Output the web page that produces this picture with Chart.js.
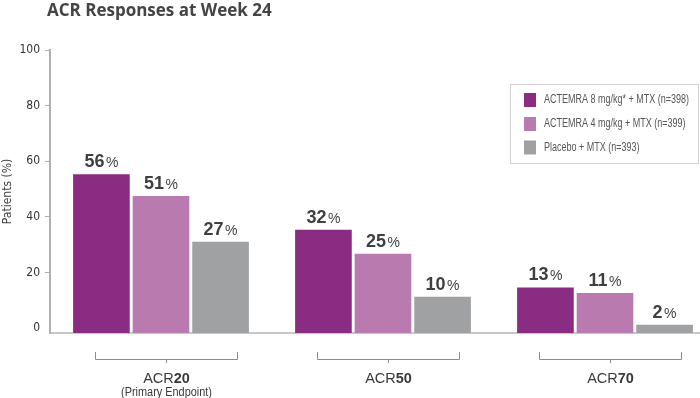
<!DOCTYPE html>
<html>
<head>
<meta charset="utf-8">
<script src="https://cdn.jsdelivr.net/npm/chart.js@4.4.1/dist/chart.umd.min.js"></script>
<style>
	html, body { margin: 0; padding: 0; background: #fff; overflow: hidden; }
	#clip { width: 700px; height: 398px; overflow: hidden; }
	#wrap { width: 716px; height: 398px; position: relative; }
</style>
</head>
<body>
<div id="clip"><div id="wrap"><canvas id="acr-chart"></canvas></div></div>
<script>
// categories (ACR + bold number) and the note under the first one
const categories = ["20", "50", "70"];
const categoryNotes = ["(Primary Endpoint)", "", ""];

const seriesNames = [
	"ACTEMRA 8 mg/kg* + MTX (n=398)",
	"ACTEMRA 4 mg/kg + MTX (n=399)",
	"Placebo + MTX (n=393)",
];

// bar heights as drawn in the picture
const actemra8 = [55.3, 35.3, 14.6];
const actemra4 = [47.5, 26.7, 12.6];
const placebo = [31.0, 11.2, 1.2];

// printed percentages above the bars
const actemra8Labels = ["56", "32", "13"];
const actemra4Labels = ["51", "25", "11"];
const placeboLabels = ["27", "10", "2"];

const yTicks = [0, 20, 40, 60, 80, 100];
const yMin = -1.8;

const colors = ["#8a2c82", "#b97aaf", "#a0a1a3"];
const narrowFont = '"Liberation Sans Narrow", "DejaVu Sans Condensed", "Liberation Sans", Arial, sans-serif';
const plainFont = '"Liberation Sans", Arial, sans-serif';

const valueLabels = [actemra8Labels, actemra4Labels, placeboLabels];

const decorPlugin = {
	id: "acrDecor",
	afterDatasetsDraw(chart) {
		const ctx = chart.ctx;
		ctx.save();
		ctx.fillStyle = "#404040";
		ctx.textBaseline = "alphabetic";
		ctx.textAlign = "left";
		chart.data.datasets.forEach((ds, i) => {
			const meta = chart.getDatasetMeta(i);
			meta.data.forEach((bar, j) => {
				const num = valueLabels[i][j];
				ctx.font = "bold 18px " + plainFont;
				const wNum = ctx.measureText(num).width;
				ctx.font = "14px " + plainFont;
				const wPct = ctx.measureText("%").width;
				const start = bar.x - (wNum + 1.5 + wPct) / 2;
				const baseY = bar.y - 7;
				ctx.font = "bold 18px " + plainFont;
				ctx.fillText(num, start, baseY);
				ctx.font = "14px " + plainFont;
				ctx.fillText("%", start + wNum + 1.5, baseY);
			});
		});
		ctx.restore();
	},
	afterDraw(chart) {
		const ctx = chart.ctx;
		const xScale = chart.scales.x;
		ctx.save();

		// title
		ctx.fillStyle = "#444";
		ctx.font = 'bold 17px "Open Sans", "DejaVu Sans", sans-serif';
		ctx.textAlign = "left";
		ctx.textBaseline = "alphabetic";
		ctx.fillText("ACR Responses at Week 24", 47, 16, 243);

		// brackets and category labels
		categories.forEach((cat, i) => {
			const cx = Math.round(xScale.getPixelForValue(i) + 4.5) + 0.5;
			const l = cx - 71;
			const r = cx + 71;
			ctx.strokeStyle = "#8c8c8c";
			ctx.lineWidth = 1;
			ctx.beginPath();
			ctx.moveTo(l, 352);
			ctx.lineTo(l, 359.5);
			ctx.lineTo(r, 359.5);
			ctx.lineTo(r, 352);
			ctx.moveTo(cx, 359.5);
			ctx.lineTo(cx, 363);
			ctx.stroke();

			ctx.fillStyle = "#3a3a3a";
			ctx.font = "14.5px " + plainFont;
			const wA = ctx.measureText("ACR").width;
			ctx.font = "bold 14.5px " + plainFont;
			const wN = ctx.measureText(cat).width;
			const sx = cx - (wA + wN) / 2;
			ctx.font = "14.5px " + plainFont;
			ctx.fillText("ACR", sx, 382.5);
			ctx.font = "bold 14.5px " + plainFont;
			ctx.fillText(cat, sx + wA, 382.5);

			if (categoryNotes[i]) {
				ctx.font = "12px " + plainFont;
				ctx.textAlign = "center";
				ctx.fillText(categoryNotes[i], cx, 395.5, 91);
				ctx.textAlign = "left";
			}
		});

		// legend box
		ctx.strokeStyle = "#d2d2d2";
		ctx.lineWidth = 1;
		ctx.strokeRect(510.5, 84.5, 188, 79);
		const rowY = [100, 124, 147.5];
		ctx.font = "12.5px " + plainFont;
		const squeeze = 145 / ctx.measureText(seriesNames[0]).width;
		chart.data.datasets.forEach((ds, i) => {
			ctx.fillStyle = ds.backgroundColor;
			ctx.fillRect(524, rowY[i] - 7, 12, 14);
			ctx.fillStyle = "#555";
			ctx.textBaseline = "middle";
			ctx.save();
			ctx.translate(544, rowY[i]);
			ctx.scale(squeeze, 1);
			ctx.fillText(ds.label, 0, 0);
			ctx.restore();
		});

		ctx.restore();
	},
};

new Chart(document.getElementById("acr-chart"), {
	type: "bar",
	data: {
		labels: categories.map((c) => "ACR" + c),
		datasets: [
			{ label: seriesNames[0], data: actemra8, backgroundColor: colors[0] },
			{ label: seriesNames[1], data: actemra4, backgroundColor: colors[1] },
			{ label: seriesNames[2], data: placebo, backgroundColor: colors[2] },
		].map((ds) => ({
			...ds,
			base: yMin,
			categoryPercentage: 0.805,
			barPercentage: 0.951,
		})),
	},
	options: {
		responsive: true,
		maintainAspectRatio: false,
		animation: false,
		devicePixelRatio: 1,
		layout: {
			padding: { top: 50, right: 0, left: 0, bottom: 0 },
		},
		scales: {
			x: {
				offset: true,
				grid: { display: false },
				ticks: { display: false },
				border: { color: "#c8c8c8", width: 2 },
				afterFit: (scale) => {
					scale.height = 65;
				},
			},
			y: {
				min: yMin,
				max: 100,
				afterBuildTicks: (scale) => {
					scale.ticks = yTicks.map((v) => ({ value: v }));
				},
				ticks: {
					color: "#333",
					padding: 5,
					font: { family: narrowFont, size: 12 },
				},
				grid: {
					drawOnChartArea: false,
					tickLength: 5,
					tickColor: (ctx) => (ctx.tick && ctx.tick.value === 0 ? "rgba(0,0,0,0)" : "#b0b0b0"),
				},
				border: { color: "#b0b0b0", width: 2 },
				title: {
					display: true,
					text: "Patients (%)",
					color: "#444",
					font: { family: narrowFont, size: 12 },
					padding: { top: 1, bottom: 0 },
				},
				afterFit: (scale) => {
					scale.width = 50;
				},
			},
		},
		plugins: {
			legend: { display: false },
			tooltip: { enabled: false },
		},
	},
	plugins: [decorPlugin],
});
</script>
</body>
</html>
